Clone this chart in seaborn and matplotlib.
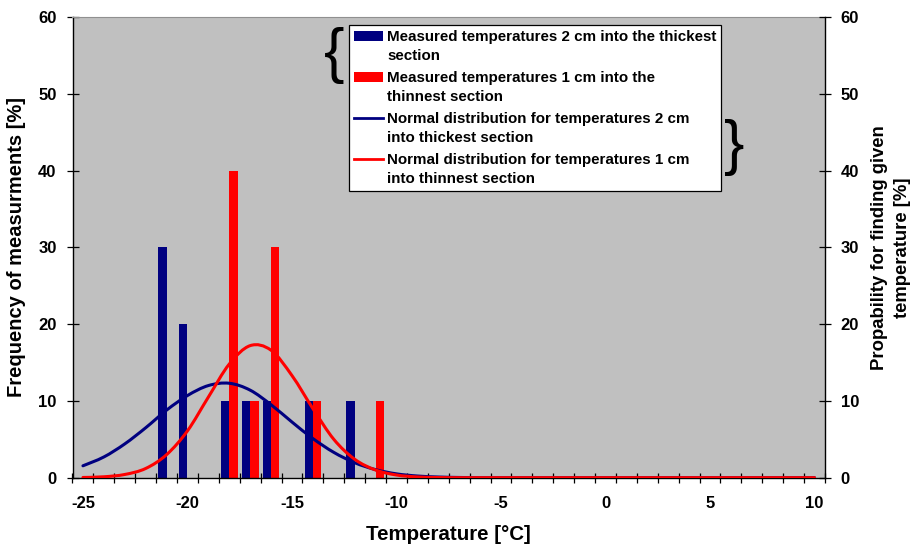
import numpy as np
import pandas as pd
import matplotlib
matplotlib.use("Agg")
import matplotlib.pyplot as plt
from matplotlib.path import Path
from matplotlib.patches import PathPatch, Patch
from matplotlib.lines import Line2D
from matplotlib.legend_handler import HandlerPatch, HandlerLine2D
from matplotlib.transforms import Affine2D
from matplotlib.ticker import MultipleLocator, FixedLocator
import seaborn as sns

# Measured frequencies [%] per temperature class [°C]
thick_temps = [-21, -20, -18, -17, -16, -14, -12]
thick_freq = [30, 20, 10, 10, 10, 10, 10]
thin_temps = [-18, -17, -16, -14, -11]
thin_freq = [40, 10, 30, 10, 10]

# Normal distribution curves [%] evaluated at each whole degree
curve_temps = list(range(-25, 11))
thick_normal = [1.55, 2.7, 4.4, 6.5, 8.8, 10.7, 12.0, 12.3, 11.4, 9.5, 7.25, 5.1,
                3.3, 1.95, 1.05, 0.5, 0.22, 0.09, 0.03, 0, 0, 0, 0, 0, 0, 0, 0,
                0, 0, 0, 0, 0, 0, 0, 0, 0]
thin_normal = [0.03, 0.12, 0.42, 1.2, 3.0, 6.1, 10.5, 14.8, 17.2, 16.6, 13.3, 9.0,
               5.0, 2.4, 1.0, 0.35, 0.1, 0.02, 0, 0, 0, 0, 0, 0, 0, 0, 0,
               0, 0, 0, 0, 0, 0, 0, 0, 0]

x_ticklabels = ["-25", "-20", "-15", "-10", "-5", "0", "5", "10"]
y_ticks = [0, 10, 20, 30, 40, 50, 60]

label_thick_bar = "Measured temperatures 2 cm into the thickest\nsection"
label_thin_bar = "Measured temperatures 1 cm into the\nthinnest section"
label_thick_line = "Normal distribution for temperatures 2 cm\ninto thickest section"
label_thin_line = "Normal distribution for temperatures 1 cm\ninto thinnest section"

NAVY = "#000080"
RED = "#FF0000"
FONT = "Liberation Sans"

plt.rcParams["font.family"] = [FONT, "DejaVu Sans"]
plt.rcParams["font.weight"] = "bold"

bars = pd.DataFrame({
    "temp": thick_temps + thin_temps,
    "freq": thick_freq + thin_freq,
    "series": ["thick"] * len(thick_temps) + ["thin"] * len(thin_temps),
})

fig = plt.figure(figsize=(9.2, 5.51), dpi=100)
ax = fig.add_axes([72.5 / 920, 1 - 477.7 / 551, (825 - 72.5) / 920, (477.7 - 17) / 551])
ax.set_facecolor("#C0C0C0")

sns.barplot(data=bars, x="temp", y="freq", hue="series", hue_order=["thick", "thin"],
            palette={"thick": NAVY, "thin": RED}, native_scale=True, width=0.8,
            saturation=1, errorbar=None, linewidth=0, legend=False, ax=ax, zorder=2)


def smooth_path(xs, ys):
    """Catmull-Rom style cubic Bezier path through the given points."""
    pts = np.column_stack([xs, ys]).astype(float)
    n = len(pts)
    verts = [pts[0]]
    codes = [Path.MOVETO]
    for i in range(n - 1):
        p0 = pts[i - 1] if i > 0 else pts[i]
        p1 = pts[i]
        p2 = pts[i + 1]
        p3 = pts[i + 2] if i + 2 < n else pts[i + 1]
        c1 = p1 + (p2 - p0) / 6.0
        c2 = p2 - (p3 - p1) / 6.0
        verts += [c1, c2, p2]
        codes += [Path.CURVE4] * 3
    return Path(verts, codes)


for vals, col in [(thick_normal, NAVY), (thin_normal, RED)]:
    ax.add_patch(PathPatch(smooth_path(curve_temps, vals), facecolor="none",
                           edgecolor=col, lw=2.2, zorder=3, capstyle="round"))

ax.set_xlim(-25.5, 10.5)
ax.set_ylim(0, 60)
ax.xaxis.set_major_locator(FixedLocator([float(t) for t in x_ticklabels]))
ax.set_xticklabels(x_ticklabels)
ax.xaxis.set_minor_locator(MultipleLocator(1.0, offset=0.5))
ax.tick_params(axis="x", which="major", length=0, pad=13, labelsize=12)
ax.tick_params(axis="x", which="minor", direction="inout", length=7, width=0.9)
ax.set_yticks(y_ticks)
ax.set_yticklabels([str(v) for v in y_ticks])
ax.tick_params(axis="y", direction="inout", length=8, width=0.9, pad=7.5, labelsize=12)

for side in ["left", "bottom", "right"]:
    ax.spines[side].set_color("black")
    ax.spines[side].set_linewidth(1.0)
ax.spines["top"].set_color("#909090")
ax.spines["top"].set_linewidth(0.8)
ax.grid(False)

ax.set_xlabel("Temperature [°C]", fontsize=14.8, fontweight="bold", labelpad=10)
ax.set_ylabel("Frequency of measurments [%]", fontsize=14.5, fontweight="bold", labelpad=9)

ax2 = ax.twinx()
ax2.set_ylim(0, 60)
ax2.set_yticks(y_ticks)
ax2.set_yticklabels([str(v) for v in y_ticks])
ax2.tick_params(axis="y", direction="inout", length=8, width=0.9, pad=7.2, labelsize=12)
for s in ax2.spines.values():
    s.set_visible(False)
ax2.set_ylabel("Propability for finding given\ntemperature [%]", fontsize=13.3,
               fontweight="bold", labelpad=9, linespacing=1.4)


class RaisedPatch(HandlerPatch):
    def create_artists(self, legend, orig_handle, xdescent, ydescent, width, height,
                       fontsize, trans):
        trans = Affine2D().translate(0, 0.7 * fontsize) + trans
        return super().create_artists(legend, orig_handle, xdescent, ydescent, width,
                                      height, fontsize, trans)


class RaisedLine(HandlerLine2D):
    def create_artists(self, legend, orig_handle, xdescent, ydescent, width, height,
                       fontsize, trans):
        trans = Affine2D().translate(0, 0.7 * fontsize) + trans
        return super().create_artists(legend, orig_handle, xdescent, ydescent, width,
                                      height, fontsize, trans)


handles = [Patch(facecolor=NAVY, edgecolor="none"),
           Patch(facecolor=RED, edgecolor="none"),
           Line2D([], [], color=NAVY, lw=2.0),
           Line2D([], [], color=RED, lw=2.0)]
labels = [label_thick_bar, label_thin_bar, label_thick_line, label_thin_line]
leg = fig.legend(handles, labels, loc="upper left",
                 bbox_to_anchor=(349 / 920, 1 - 25 / 551), borderaxespad=0,
                 prop={"family": FONT, "weight": "bold", "size": 10.9},
                 handlelength=1.97, handletextpad=0.25, borderpad=0.3,
                 labelspacing=0.5, frameon=True, fancybox=False, shadow=False,
                 framealpha=1.0,
                 handler_map={Patch: RaisedPatch(), Line2D: RaisedLine()})
for t in leg.get_texts():
    t.set_linespacing(1.5)
leg.get_frame().set_edgecolor("black")
leg.get_frame().set_linewidth(0.9)
leg.get_frame().set_facecolor("white")

# Braces grouping the measured series and the fitted curves
fig.text(334 / 920, 1 - 56 / 551, "{", fontsize=44, fontweight="normal",
         ha="center", va="center", family=[FONT, "DejaVu Sans"])
fig.text(734 / 920, 1 - 147 / 551, "}", fontsize=44, fontweight="normal",
         ha="center", va="center", family=[FONT, "DejaVu Sans"])

fig.savefig("out.png", dpi=100)
